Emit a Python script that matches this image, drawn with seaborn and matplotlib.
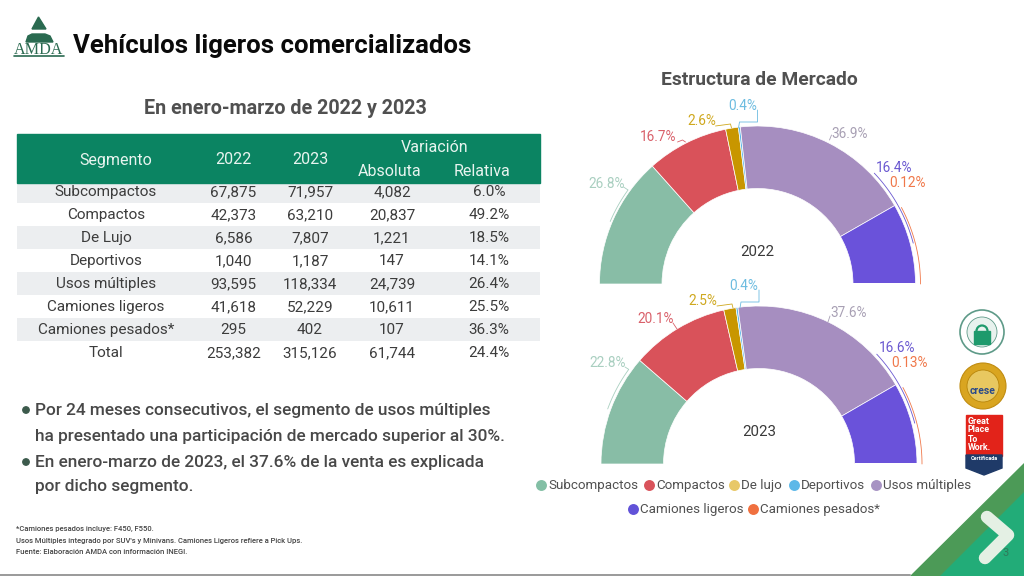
import matplotlib
matplotlib.use('Agg')
import matplotlib.pyplot as plt
from matplotlib.colors import ListedColormap
from matplotlib.patches import Polygon, Rectangle, Circle
import numpy as np
import seaborn as sns

# table data
segmentos = ['Subcompactos', 'Compactos', 'De Lujo', 'Deportivos', 'Usos múltiples',
             'Camiones ligeros', 'Camiones pesados*', 'Total']
ventas_2022 = ['67,875', '42,373', '6,586', '1,040', '93,595', '41,618', '295', '253,382']
ventas_2023 = ['71,957', '63,210', '7,807', '1,187', '118,334', '52,229', '402', '315,126']
absoluta = ['4,082', '20,837', '1,221', '147', '24,739', '10,611', '107', '61,744']
relativa = ['6.0%', '49.2%', '18.5%', '14.1%', '26.4%', '25.5%', '36.3%', '24.4%']

# market structure
leyenda = ['Subcompactos', 'Compactos', 'De lujo', 'Deportivos', 'Usos múltiples',
           'Camiones ligeros', 'Camiones pesados*']
estructura_2022 = [26.8, 16.7, 2.6, 0.4, 36.9, 16.4, 0.12]
estructura_2023 = [22.8, 20.1, 2.5, 0.4, 37.6, 16.6, 0.13]
etiquetas_2022 = ['26.8%', '16.7%', '2.6%', '0.4%', '36.9%', '16.4%', '0.12%']
etiquetas_2023 = ['22.8%', '20.1%', '2.5%', '0.4%', '37.6%', '16.6%', '0.13%']

colores = ['#88BDA6', '#D9525A', '#C89600', '#5DB8E8', '#A68EC0', '#6A52DA', '#F0703F']
colores_ley = ['#83BFA5', '#D9535B', '#E8C868', '#5DB8E8', '#A793C3', '#6152D8', '#F0703F']
colores_txt = ['#A9CFC0', '#D9606A', '#CFA81E', '#6CBCE0', '#A8A0B4', '#6A58D0', '#F0784A']

sns.set_theme(style='white')
plt.rcParams['font.family'] = ['Roboto', 'DejaVu Sans']

W, H = 1024, 576
fig = plt.figure(figsize=(W / 100, H / 100), dpi=100, facecolor='white')

# page axes in pixels, sits above everything
page = fig.add_axes([0, 0, 1, 1], zorder=5)
page.set_xlim(0, W)
page.set_ylim(H, 0)
page.axis('off')
page.patch.set_alpha(0)


def px_axes(x0, y0, x1, y1, zorder=1):
    return fig.add_axes([x0 / W, 1 - y1 / H, (x1 - x0) / W, (y1 - y0) / H], zorder=zorder)


# --- logo and title ---
LOGO = '#2A6A50'
page.add_patch(Polygon([[38.5, 17], [32, 29], [46, 29]], color=LOGO))
page.add_patch(Polygon([[28, 36], [32, 34], [45, 34], [50, 36], [53, 42], [26, 42]], color=LOGO))
page.text(39, 49.5, 'AMDA', ha='center', va='center', fontsize=11.6, color=LOGO,
          family='Liberation Serif')
page.plot([14, 64], [56, 56], color=LOGO, lw=1.2)
page.text(73, 46, 'Vehículos ligeros comercializados', fontsize=18.5, fontweight='bold',
          color='#0A0A0A', ha='left', va='center')
page.text(285.5, 109, 'En enero-marzo de 2022 y 2023', fontsize=14.2, fontweight='bold',
          color='#505050', ha='center', va='center')
page.text(759.5, 80, 'Estructura de Mercado', fontsize=13.9, fontweight='bold',
          color='#505050', ha='center', va='center')

# --- table stripes through a heatmap ---
franjas = np.array([[(i + 1) % 2] for i in range(8)])
hm = px_axes(17, 180, 540, 364)
sns.heatmap(franjas, ax=hm, cbar=False, cmap=ListedColormap(['#FFFFFF', '#ECEEF0']),
            xticklabels=False, yticklabels=False, vmin=0, vmax=1)

page.add_patch(Rectangle((17, 134), 523, 49, color='#0B8462', zorder=1))
for x, y, s in [(116, 161, 'Segmento'), (233, 160, '2022'), (310, 160, '2023'), (435, 147, 'Variación'),
                (390, 172, 'Absoluta'), (482, 172, 'Relativa')]:
    page.text(x, y, s, color='#E8F4EF', fontsize=11.5, ha='center', va='center', zorder=2)

columnas = [(106, segmentos), (233.5, ventas_2022), (310, ventas_2023), (392, absoluta), (489, relativa)]
for cx, col in columnas:
    for i, s in enumerate(col):
        page.text(cx, 192 + 23 * i, s, color='#3C3C3C', fontsize=11, ha='center', va='center', zorder=2)

# --- bullets ---
lineas = [(410, 'Por 24 meses consecutivos, el segmento de usos múltiples'),
          (436, 'ha presentado una participación de mercado superior al 30%.'),
          (462, 'En enero-marzo de 2023, el 37.6% de la venta es explicada'),
          (487, 'por dicho segmento.')]
for y, s in lineas:
    page.text(35, y, s, color='#484848', fontsize=12.43, fontweight='medium', ha='left', va='center')
for y in (410, 462):
    page.add_patch(Circle((26, y), 3.2, color='#3C5A4C'))

notas = ['*Camiones pesados incluye: F450, F550.',
         "Usos Múltiples integrado por SUV's y Minivans. Camiones Ligeros refiere a Pick Ups.",
         'Fuente: Elaboración AMDA con información INEGI.']
for y, s in zip((529, 540.5, 551.5), notas):
    page.text(16, y, s, color='#444444', fontsize=5.48, fontweight='medium', ha='left', va='center')


# --- half donuts ---
def media_dona(valores, cx, base, anio):
    R, r = 158, 95.5
    ax = px_axes(cx - R, base - R, cx + R, base, zorder=2)
    wedges, _ = ax.pie(valores + [sum(valores)], colors=colores + ['white'], startangle=180,
                       counterclock=False, radius=1,
                       wedgeprops=dict(width=(R - r) / R, edgecolor='white', linewidth=0.5))
    wedges[-1].set_visible(False)
    ax.set_xlim(-1, 1)
    ax.set_ylim(0, 1)
    ax.set_aspect('auto')
    page.text(cx, base - 32, anio, color='#3A3A3A', fontsize=10.8, ha='center', va='center')


media_dona(estructura_2022, 757.5, 284, '2022')
media_dona(estructura_2023, 759, 464, '2023')


def arco(radio, a0, a1):
    # thin leader following the outer edge, angles in degrees
    t = np.radians(np.linspace(a0, a1, 30))
    return list(zip(radio * np.cos(t), -radio * np.sin(t)))


# labels and their leader lines, as offsets from each chart base
pos_2022 = [(-151, -100), (-99, -147), (-56, -163), (-15, -178), (92, -150), (137, -116), (150, -101)]
pos_2023 = [(-151, -101), (-103, -145), (-56, -163), (-15, -178), (90, -151), (138, -116), (151, -101)]
guias_2022 = [[(-134, -97)] + arco(160, 144, 157), [(-80, -142), (-75, -144), (-72, -142)],
              [(-42, -158), (-27, -160), (-26, -156)], [(0, -174), (0, -162), (-18, -162), (-19, -156)],
              [(72, -144), (74, -149)], arco(161, 43.5, 14.7), arco(163, 28, 0)]
guias_2023 = [[(-134, -97)] + arco(161, 144, 160), [(-86, -141), (-82, -135)],
              [(-42, -158), (-27, -160), (-26, -156)], [(0, -174), (0, -162), (-18, -162), (-19, -156)],
              [(69, -142), (71, -148)], arco(161, 43, 14.7), arco(163, 28, 0)]
for base, cx, etqs, pos, guias in [(284, 757.5, etiquetas_2022, pos_2022, guias_2022),
                                   (464, 759, etiquetas_2023, pos_2023, guias_2023)]:
    for i, s in enumerate(etqs):
        page.text(cx + pos[i][0], base + pos[i][1], s, color=colores_txt[i], fontsize=9.8,
                  ha='center', va='center')
        xs = [cx + p[0] for p in guias[i]]
        ys = [base + p[1] for p in guias[i]]
        page.plot(xs, ys, color=colores_txt[i], lw=0.6)

# legend
ley_pos = [(541, 485), (649, 485), (734, 485), (794, 485), (876, 485), (633, 509), (753, 509)]
for (x, y), s, c in zip(ley_pos, leyenda, colores_ley):
    page.scatter([x], [y], s=62, color=c, linewidths=0, zorder=3)
    page.text(x + 7, y, s, color='#505050', fontsize=9.6, ha='left', va='center')

# --- badges ---
page.add_patch(Circle((982, 332), 22, facecolor='white', edgecolor='#5E9A88', lw=1.2))
page.add_patch(Circle((982, 332), 15, facecolor='#E8F2EE', edgecolor='#5E9A88', lw=0.6))
page.add_patch(Rectangle((974, 331), 16, 13, color='#1E9A6C'))
page.add_patch(Circle((982, 331), 5.5, facecolor='none', edgecolor='#1E9A6C', lw=1.6))
page.add_patch(Circle((983, 386), 23, facecolor='#D9A520', edgecolor='#C08C10', lw=0.8))
page.add_patch(Circle((983, 386), 16, facecolor='#E8C860', edgecolor='#B8860B', lw=0.6))
page.text(983, 391, 'crese', color='#2A4A8A', fontsize=7.5, fontweight='bold', ha='center', va='center')
page.add_patch(Rectangle((966, 415), 36, 41, color='#E2231A'))
page.add_patch(Polygon([[966, 455], [1002, 455], [1002, 468], [984, 475], [966, 468]], color='#1F3A68'))
for y, s in zip((421, 430, 439, 448), ('Great', 'Place', 'To', 'Work.')):
    page.text(968, y, s, color='white', fontsize=6.4, fontweight='bold', ha='left', va='center')
page.text(984, 458, 'Certificada', color='white', fontsize=4, fontweight='bold', ha='center', va='center')

# --- corner decoration ---
page.add_patch(Polygon([[1024, 463], [1024, 576], [910, 576]], color='#4C9A57'))
page.add_patch(Polygon([[1024, 492], [1024, 576], [940, 576]], color='#22AC78'))
page.plot([987, 1008, 985], [517, 535, 558], color='#E4F0E4', lw=9, solid_joinstyle='round',
          solid_capstyle='round')
page.text(1006, 553, '3', color='#2F7A5A', fontsize=8, ha='center', va='center')
page.plot([0, 910], [575, 575], color='#9A9A9A', lw=1.4)

fig.savefig('out.png', dpi=100)
